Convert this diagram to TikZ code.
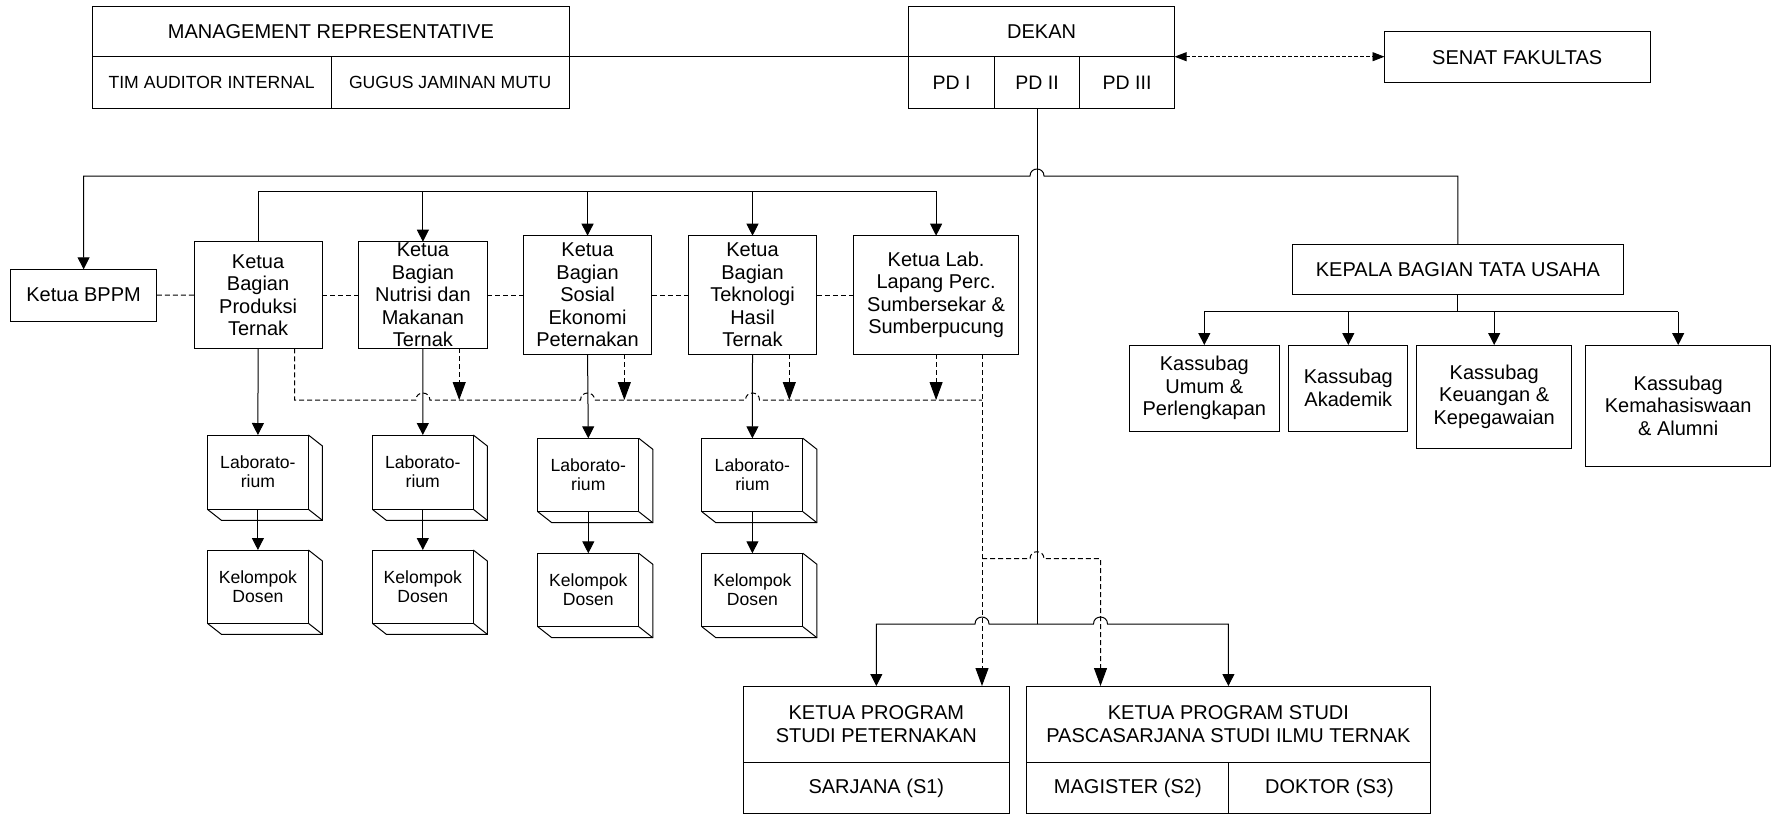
\documentclass[tikz,border=0pt]{standalone}
\usepackage{fontspec}
\setmainfont{Liberation Sans}
\usetikzlibrary{arrows.meta,calc}
\newcommand{\fA}{\fontsize{20}{22.5}\selectfont}
\newcommand{\fB}{\fontsize{17.6}{19.5}\selectfont}
\newcommand{\fC}{\fontsize{17.6}{19}\selectfont}
\newcommand{\fD}{\fontsize{19.5}{22}\selectfont}
\tikzset{
  box/.style={draw, line width=1pt, inner sep=0pt, outer sep=0pt, anchor=north west},
  txt/.style={align=center, inner sep=0pt},
  ln/.style={line width=1pt},
  arr/.style={ln, -{Triangle[length=12pt,width=12pt]}},
  dsh/.style={line width=1pt, dash pattern=on 5pt off 3pt},
  darr/.style={dsh, -{Triangle[length=18pt,width=13pt]}},
  sarr/.style={line width=0.9pt, dash pattern=on 4pt off 2pt,
    {Triangle[length=12pt,width=9pt]}-{Triangle[length=12pt,width=9pt]}}
}
% name, x1, y1, x2, y2, text, font
\newcommand{\mkbox}[7]{%
  \node[box, minimum width={(#4-#2)*1pt}, minimum height={(#5-#3)*1pt}] (#1) at (#2,#3) {};
  \node[txt, font=#7] (#1t) at (#1.center) {#6};}
\newcommand{\deepbox}[1]{%
  \draw[line width=1pt] (#1.north east) -- ++(14,11) -- ($(#1.south east)+(14,11)$)
     -- ($(#1.south west)+(14,11)$) -- (#1.south west);
  \draw[line width=1pt] (#1.south east) -- ++(14,11);}
\newcommand{\hopL}[1]{-- ($(#1)+(7,0)$) .. controls +(0,-9.3) and +(0,-9.3) .. ($(#1)+(-7,0)$)}
\newcommand{\hopR}[1]{-- ($(#1)+(-7,0)$) .. controls +(0,-9.3) and +(0,-9.3) .. ($(#1)+(7,0)$)}
\begin{document}
\begin{tikzpicture}[x=1pt,y=-1pt]
\fill[white] (0,0) rectangle (1777,814);
\useasboundingbox (0,0) rectangle (1777,814);

% top
\mkbox{mr}{92.2}{6}{569.5}{56.7}{MANAGEMENT REPRESENTATIVE}{\fA}
\mkbox{tim}{92.2}{56.7}{331}{108.3}{TIM AUDITOR INTERNAL}{\fB}
\mkbox{gugus}{331}{56.7}{569.5}{108.3}{GUGUS JAMINAN MUTU}{\fB}
\mkbox{dekan}{908.6}{6}{1174.6}{56.7}{DEKAN}{\fA}
\mkbox{pda}{908.6}{56.7}{994.4}{108.3}{PD I}{\fD}
\mkbox{pdb}{994.4}{56.7}{1079.6}{108.3}{PD II}{\fD}
\mkbox{pdc}{1079.6}{56.7}{1174.6}{108.3}{PD III}{\fD}
\mkbox{senat}{1384.5}{31.7}{1650}{82.7}{SENAT FAKULTAS}{\fA}

% middle row
\mkbox{bppm}{10.3}{269.3}{156.9}{321}{Ketua BPPM}{\fA}
\mkbox{prod}{194}{241.7}{322.2}{348.3}{Ketua\\Bagian\\Produksi\\Ternak}{\fA}
\mkbox{nutri}{358.6}{241.7}{487.2}{348.3}{Ketua\\Bagian\\Nutrisi dan\\Makanan\\Ternak}{\fA}
\mkbox{sosial}{523.3}{235.7}{651.8}{354.3}{Ketua\\Bagian\\Sosial\\Ekonomi\\Peternakan}{\fA}
\mkbox{tekno}{688.2}{235.7}{816.8}{354.3}{Ketua\\Bagian\\Teknologi\\Hasil\\Ternak}{\fA}
\mkbox{lab}{853.6}{235.7}{1018.6}{354.3}{Ketua Lab.\\Lapang Perc.\\Sumbersekar \&\\Sumberpucung}{\fA}
\mkbox{kabag}{1292.1}{244}{1623.8}{294.3}{KEPALA BAGIAN TATA USAHA}{\fA}
\mkbox{umum}{1129.4}{345}{1279.2}{431}{Kassubag\\Umum \&\\Perlengkapan}{\fA}
\mkbox{akad}{1288.7}{345}{1407.9}{431}{Kassubag\\Akademik}{\fA}
\mkbox{keu}{1416.5}{345}{1571.9}{448.3}{Kassubag\\Keuangan \&\\Kepegawaian}{\fA}
\mkbox{kema}{1585.8}{345}{1770.6}{466}{Kassubag\\Kemahasiswaan\\\& Alumni}{\fA}

% labs
\mkbox{la}{207.4}{435}{308.4}{509.3}{Laborato-\\rium}{\fC}
\mkbox{ka}{207.4}{550}{308.4}{623.3}{Kelompok\\Dosen}{\fC}
\mkbox{lb}{372.3}{435}{473.3}{509.3}{Laborato-\\rium}{\fC}
\mkbox{kb}{372.3}{550}{473.3}{623.3}{Kelompok\\Dosen}{\fC}
\mkbox{lc}{537.8}{438.3}{638.8}{511.7}{Laborato-\\rium}{\fC}
\mkbox{kc}{537.8}{553.3}{638.8}{626.7}{Kelompok\\Dosen}{\fC}
\mkbox{ld}{701.9}{438.3}{802.9}{511.7}{Laborato-\\rium}{\fC}
\mkbox{kd}{701.9}{553.3}{802.9}{626.7}{Kelompok\\Dosen}{\fC}
\foreach \b in {la,ka,lb,kb,lc,kc,ld,kd}{\deepbox{\b}}

% bottom
\mkbox{sarj}{743.3}{686}{1009.4}{762.7}{KETUA PROGRAM\\STUDI PETERNAKAN}{\fA}
\mkbox{sa}{743.3}{762.7}{1009.4}{813.3}{SARJANA (S1)}{\fA}
\mkbox{pasca}{1026.8}{686}{1430}{762.7}{KETUA PROGRAM STUDI\\PASCASARJANA STUDI ILMU TERNAK}{\fA}
\mkbox{mag}{1026.8}{762.7}{1228.9}{813.3}{MAGISTER (S2)}{\fA}
\mkbox{dok}{1228.9}{762.7}{1430}{813.3}{DOKTOR (S3)}{\fA}

% levels
\coordinate (yTop) at (0,176);
\coordinate (ySec) at (0,191.7);
\coordinate (yDash) at (0,400);
\coordinate (yBr) at (0,558.7);
\coordinate (yBot) at (0,624);
\coordinate (ySub) at (0,311.7);

% top connectors
\draw[ln] (mr.south east) -- (dekan.south west);
\draw[sarr] (dekan.south east) -- (senat.west |- dekan.south east);

% main vertical and bottom bus
\coordinate (bj) at (pdb.south |- yBot);
\coordinate (dv) at ($(lab.south east)+(-36.6,0)$);
\coordinate (pv) at ($(pasca.north west)+(73.7,0)$);
\coordinate (h1) at (dv |- yBot);
\coordinate (h2) at (pv |- yBot);
\coordinate (h3) at (pdb.south |- yBr);
\coordinate (h4) at (pdb.south |- yTop);
\draw[ln] (pdb.south) -- (bj);
\draw[arr] (bj) \hopL{h1} -- (sarj.north |- yBot) -- (sarj.north);
\draw[arr] (bj) \hopR{h2} -- (pasca.north |- yBot) -- (pasca.north);
\draw[darr] (dv) -- (dv |- sarj.north);
\draw[darr] (dv |- yBr) \hopR{h3} -- (pv |- yBr) -- (pv);

% top bus
\draw[arr] (kabag.north) -- (kabag.north |- yTop) \hopL{h4} -- (bppm.north |- yTop) -- (bppm.north);

% second bus
\draw[arr] (prod.north) -- (prod.north |- ySec) -- (lab.north |- ySec) -- (lab.north);
\foreach \b in {nutri,sosial,tekno}{\draw[arr] (\b.north |- ySec) -- (\b.north);}

% dashed row links
\draw[dsh] (bppm.east) -- (prod.west);
\draw[dsh] (prod.east) -- (nutri.west);
\draw[dsh] (nutri.east) -- (sosial.west);
\draw[dsh] (sosial.east) -- (tekno.west);
\draw[dsh] (tekno.east) -- (lab.west);

% dashed bus
\coordinate (dp) at ($(prod.south east)+(-27.5,0)$);
\coordinate (h5) at (nutri.south |- yDash);
\coordinate (h6) at (sosial.south |- yDash);
\coordinate (h7) at (tekno.south |- yDash);
\draw[dsh] (dp) -- (dp |- yDash) \hopR{h5} \hopR{h6} \hopR{h7} -- (dv |- yDash);
\coordinate (na) at ($(nutri.south)+(36.3,0)$);
\coordinate (sa2) at ($(sosial.south)+(36.8,0)$);
\coordinate (ta) at ($(tekno.south)+(36.8,0)$);
\draw[darr] (na) -- (na |- yDash);
\draw[darr] (sa2) -- (sa2 |- yDash);
\draw[darr] (ta) -- (ta |- yDash);
\draw[darr] (lab.south) -- (lab.south |- yDash);

% to labs
\draw[arr] (prod.south) -- (la.north);
\draw[arr] (nutri.south) -- (lb.north);
\draw[arr] (sosial.south) -- (lc.north);
\draw[arr] (tekno.south) -- (ld.north);
\draw[arr] (la.south) -- (ka.north);
\draw[arr] (lb.south) -- (kb.north);
\draw[arr] (lc.south) -- (kc.north);
\draw[arr] (ld.south) -- (kd.north);

% tata usaha
\draw[ln] (kabag.south) -- (kabag.south |- ySub);
\draw[ln] (umum.north |- ySub) -- (kema.north |- ySub);
\foreach \b in {umum,akad,keu,kema}{\draw[arr] (\b.north |- ySub) -- (\b.north);}
\end{tikzpicture}
\end{document}
